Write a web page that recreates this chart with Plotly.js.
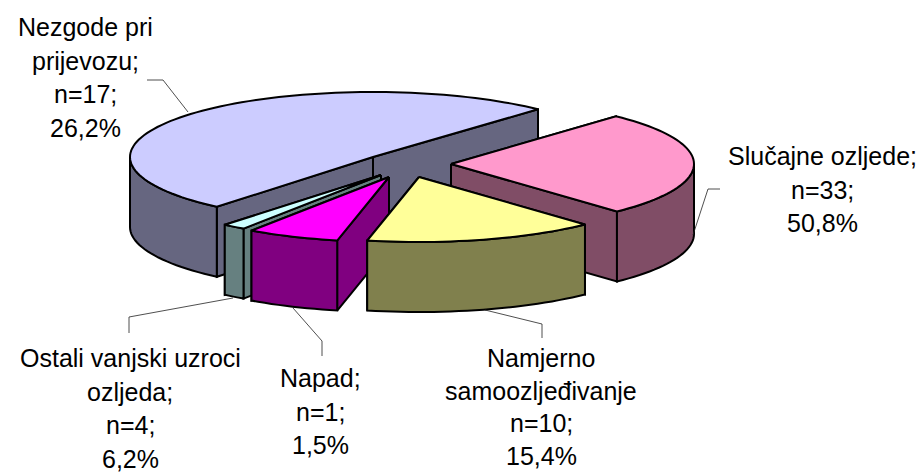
<!DOCTYPE html>
<html><head><meta charset="utf-8">
<script src="https://cdn.plot.ly/plotly-3.0.1.min.js"></script>
<style>html,body{margin:0;padding:0;background:#fff}#c{width:919px;height:472px}</style>
</head><body><div id="c"></div>
<script>
// Data
var sliceValues = [33, 17, 10, 4, 1];
var topColors = ['#CCCCFF', '#FF99CC', '#FFFF99', '#FF00FF', '#CCFFFF'];
var sideColors = ['#666680', '#804D66', '#80804D', '#800080', '#668080'];
var labelLines = [
  ['Nezgode pri', 'prijevozu;', 'n=17;', '26,2%'],
  ['Slučajne ozljede;', 'n=33;', '50,8%'],
  ['Namjerno', 'samoozljeđivanje', 'n=10;', '15,4%'],
  ['Napad;', 'n=1;', '1,5%'],
  ['Ostali vanjski uzroci', 'ozljeda;', 'n=4;', '6,2%']
];
// Layout of the drawing
var centers = [[373, 157], [451, 164], [419, 177], [389, 177], [381, 175]];
var RX = 243, RY = 65, DEPTH = 70, START = 130;
var drawOrder = [0, 1, 4, 3, 2];
var labelPos = [[85, 27], [822, 156], [541, 358], [320, 378], [130, 358]];
var labelStep = [33.5, 33.5, 32.5, 33.5, 33.5];
var leaders = [
  [[147, 80], [163, 80], [188, 112]],
  [[720, 189], [708, 189], [693, 235]],
  [[485, 310], [542, 324], [542, 338]],
  [[293, 308], [322, 341], [322, 356]],
  [[233, 298], [129, 317], [129, 333]]
];

var total = sliceValues.reduce(function (a, b) { return a + b; }, 0);
var traces = [];
function poly(pts, fill) {
  traces.push({
    type: 'scatter', mode: 'lines', hoverinfo: 'skip', showlegend: false,
    x: pts.map(function (p) { return p[0]; }),
    y: pts.map(function (p) { return p[1]; }),
    fill: 'toself', fillcolor: fill,
    line: { color: '#000', width: 2, simplify: false }
  });
}
function pt(c, deg, dy) {
  var a = deg * Math.PI / 180;
  return [c[0] + RX * Math.cos(a), c[1] + RY * Math.sin(a) + (dy || 0)];
}
function arc(c, a0, a1, dy) {
  var out = [], n = Math.max(2, Math.ceil(Math.abs(a1 - a0) / 2));
  for (var i = 0; i <= n; i++) out.push(pt(c, a0 + (a1 - a0) * i / n, dy));
  return out;
}
var angles = [], cur = START;
sliceValues.forEach(function (v) {
  angles.push([cur, cur + v / total * 360]);
  cur += v / total * 360;
});
drawOrder.forEach(function (i) {
  var c = centers[i], a0 = angles[i][0], a1 = angles[i][1];
  var below = [c[0], c[1] + DEPTH];
  // radial walls: the one further back first
  [a0, a1].sort(function (m, n) {
    return Math.sin(m * Math.PI / 180) - Math.sin(n * Math.PI / 180);
  }).forEach(function (a) {
    var p = pt(c, a), q = pt(c, a, DEPTH);
    poly([c, p, q, below, c], sideColors[i]);
  });
  // outer wall, only where it faces the viewer
  for (var k = 0; k < 2; k++) {
    var lo = Math.max(a0, k * 360), hi = Math.min(a1, k * 360 + 180);
    if (hi > lo) {
      poly(arc(c, lo, hi, 0).concat(arc(c, hi, lo, DEPTH)).concat([pt(c, lo)]), sideColors[i]);
    }
  }
  poly([c].concat(arc(c, a0, a1, 0)).concat([c]), topColors[i]);
});
leaders.forEach(function (l) {
  traces.push({
    type: 'scatter', mode: 'lines', hoverinfo: 'skip', showlegend: false,
    x: l.map(function (p) { return p[0]; }),
    y: l.map(function (p) { return p[1]; }),
    line: { color: '#222', width: 0.8 }
  });
});
var annotations = [];
labelLines.forEach(function (lines, i) {
  lines.forEach(function (t, j) {
    annotations.push({
      xref: 'x', yref: 'y', x: labelPos[i][0], y: labelPos[i][1] + j * labelStep[i],
      text: t, showarrow: false, xanchor: 'center', yanchor: 'middle',
      font: { family: 'Liberation Sans, Arial, sans-serif', size: 25, color: '#000' }
    });
  });
});
Plotly.newPlot('c', traces, {
  width: 919, height: 472,
  margin: { l: 0, r: 0, t: 0, b: 0 },
  paper_bgcolor: '#fff', plot_bgcolor: '#fff',
  showlegend: false, hovermode: false,
  xaxis: { range: [0, 919], visible: false, fixedrange: true },
  yaxis: { range: [472, 0], visible: false, fixedrange: true },
  annotations: annotations
}, { displayModeBar: false, staticPlot: true });
</script></body></html>
